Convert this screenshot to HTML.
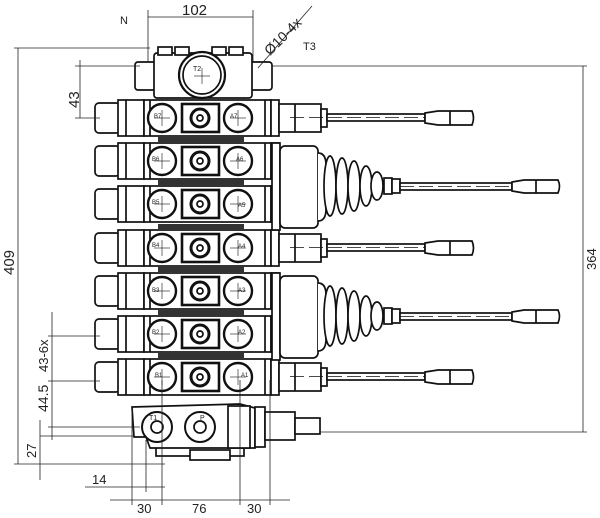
<!DOCTYPE html>
<html><head><style>body{margin:0;background:#fff}svg{display:block}text{font-family:"Liberation Sans",sans-serif;fill:#222}</style></head><body>
<svg width="600" height="518" viewBox="0 0 600 518" xmlns="http://www.w3.org/2000/svg">
<defs>
<g id="sec" stroke="#111" fill="#fff" stroke-width="1.7">
 <rect x="95" y="3" width="25" height="30" rx="4"/>
 <rect x="118" y="0" width="26" height="36"/>
 <line x1="126" y1="0" x2="126" y2="36"/>
 <rect x="144" y="0" width="127" height="36"/>
 <line x1="150" y1="0" x2="150" y2="36"/>
 <line x1="265" y1="0" x2="265" y2="36"/>
 <circle cx="162" cy="18" r="14" stroke-width="2.4"/>
 <rect x="182" y="4" width="37" height="28" stroke-width="2.6"/>
 <circle cx="200" cy="18" r="9" stroke-width="3"/>
 <circle cx="200" cy="18" r="3"/>
 <circle cx="238" cy="18" r="14" stroke-width="2.4"/>
 <line x1="154" y1="18" x2="170" y2="18" stroke-width=".6"/><line x1="162" y1="10" x2="162" y2="26" stroke-width=".6"/>
 <line x1="230" y1="18" x2="246" y2="18" stroke-width=".6"/><line x1="238" y1="10" x2="238" y2="26" stroke-width=".6"/>
 <rect x="271" y="0" width="8" height="36"/>
</g>
<g id="lev" stroke="#111" fill="#fff" stroke-width="1.7">
 <rect x="279" y="4" width="42" height="28"/>
 <line x1="295" y1="4" x2="295" y2="32"/>
 <rect x="321" y="9" width="6" height="18"/>
 <rect x="327" y="14" width="98" height="7"/>
 <line x1="290" y1="17.5" x2="425" y2="17.5" stroke-width=".7" stroke-dasharray="14 5"/>
 <path d="M425 13 L438 11 L472 11 Q475 18 472 25 L438 25 L425 23 Z"/>
 <line x1="450" y1="11" x2="450" y2="25"/>
</g>
<g id="joy" stroke="#111" fill="#fff" stroke-width="1.7">
 <rect x="272" y="0" width="8" height="87"/>
 <rect x="280" y="3" width="38" height="82" rx="5"/>
 <path d="M318 10 q8 0 8 12 v44 q0 12 -8 12" />
 <ellipse cx="330" cy="43" rx="6" ry="30"/>
 <ellipse cx="342" cy="43" rx="6" ry="28"/>
 <ellipse cx="354" cy="43" rx="6" ry="25"/>
 <ellipse cx="366" cy="43" rx="6" ry="20"/>
 <ellipse cx="377" cy="43" rx="6" ry="14"/>
 <rect x="384" y="35" width="8" height="16"/>
 <rect x="392" y="36" width="8" height="14"/>
 <rect x="400" y="40" width="112" height="7"/>
 <line x1="400" y1="43.5" x2="512" y2="43.5" stroke-width=".7" stroke-dasharray="14 5"/>
 <path d="M512 39 L524 37 L558 37 Q561 43 558 50 L524 50 L512 48 Z"/>
 <line x1="536" y1="37" x2="536" y2="50"/>
</g>
</defs>
<g fill="#333"><rect x="158" y="137" width="86" height="5"/><rect x="158" y="180" width="86" height="5"/><rect x="158" y="224" width="86" height="5"/><rect x="158" y="267" width="86" height="5"/><rect x="158" y="310" width="86" height="5"/><rect x="158" y="353" width="86" height="5"/></g>
<use href="#sec" y="100"/><use href="#sec" y="143"/><use href="#sec" y="186"/><use href="#sec" y="230"/><use href="#sec" y="273"/><use href="#sec" y="316"/><use href="#sec" y="359"/>
<use href="#lev" y="100"/><use href="#lev" y="230"/><use href="#lev" y="359"/>
<use href="#joy" y="143"/><use href="#joy" y="273"/>
<g font-size="6"><text x="154" y="118">B7</text><text x="230" y="118">A7</text><text x="152" y="161">B6</text><text x="236" y="161">A6</text><text x="152" y="204">B5</text><text x="238" y="207">A5</text><text x="152" y="247">B4</text><text x="238" y="248">A4</text><text x="152" y="292">B3</text><text x="238" y="292">A3</text><text x="152" y="334">B2</text><text x="238" y="334">A2</text><text x="155" y="377">B1</text><text x="241" y="377">A1</text></g>
<g stroke="#111" fill="#fff" stroke-width="1.7">
 <rect x="135" y="62" width="22" height="28" rx="3"/><rect x="250" y="62" width="22" height="28" rx="3"/>
 <rect x="154" y="53" width="98" height="45" rx="3"/>
 <rect x="158" y="47" width="14" height="8"/><rect x="175" y="47" width="14" height="8"/><rect x="212" y="47" width="14" height="8"/><rect x="229" y="47" width="14" height="8"/>
 <circle cx="202" cy="75" r="23" stroke-width="2.2"/><circle cx="202" cy="75" r="19"/>
 <line x1="194" y1="76" x2="210" y2="76" stroke-width=".6"/><line x1="202" y1="68" x2="202" y2="84" stroke-width=".6"/>
</g>
<text x="193" y="71" font-size="7">T2</text>
<g stroke="#111" fill="#fff" stroke-width="1.7">
 <rect x="156" y="444" width="88" height="12"/><rect x="190" y="450" width="40" height="10"/>
 <path d="M132 407 L240 404 L255 408 L255 448 L150 448 L146 437 L134 437 Z"/>
 <rect x="228" y="406" width="22" height="42"/>
 <rect x="255" y="407" width="10" height="40"/><rect x="265" y="412" width="30" height="28"/><rect x="295" y="418" width="25" height="16"/>
 <circle cx="157" cy="427" r="15" stroke-width="2"/><circle cx="157" cy="427" r="6"/>
 <circle cx="200" cy="427" r="15" stroke-width="2"/><circle cx="200" cy="427" r="6"/>
</g>
<text x="149" y="420" font-size="7">T1</text><text x="200" y="420" font-size="7">P</text>
<g stroke="#222" stroke-width=".8" fill="none">
 <line x1="148" y1="17" x2="253" y2="17"/><line x1="148" y1="10" x2="148" y2="62"/><line x1="253" y1="10" x2="253" y2="62"/>
 <line x1="258" y1="68" x2="312" y2="6"/>
 <line x1="18" y1="48" x2="18" y2="464"/><line x1="14" y1="48" x2="150" y2="48"/><line x1="14" y1="464" x2="165" y2="464"/>
 <line x1="80" y1="60" x2="80" y2="118"/><line x1="75" y1="66" x2="140" y2="66"/><line x1="75" y1="118" x2="100" y2="118"/>
 <line x1="272" y1="66" x2="587" y2="66"/><line x1="583" y1="66" x2="583" y2="432"/><line x1="320" y1="432" x2="587" y2="432"/>
 <line x1="52" y1="312" x2="52" y2="440"/><line x1="48" y1="336" x2="100" y2="336"/><line x1="48" y1="381" x2="100" y2="381"/>
 <line x1="48" y1="427" x2="140" y2="427"/><line x1="40" y1="436" x2="135" y2="436"/>
 <line x1="40" y1="420" x2="40" y2="480"/>
 <line x1="85" y1="487" x2="165" y2="487"/>
 <line x1="110" y1="500" x2="290" y2="500"/>
 <line x1="132" y1="410" x2="132" y2="505"/><line x1="146" y1="440" x2="146" y2="492"/><line x1="162" y1="380" x2="162" y2="505"/><line x1="240" y1="380" x2="240" y2="505"/><line x1="270" y1="380" x2="270" y2="505"/>
</g>
<g font-size="15"><text x="182" y="15">102</text><text x="303" y="50" font-size="11">T3</text><text x="120" y="24" font-size="11">N</text>
<text transform="translate(270,56) rotate(-45)" font-size="14">Ø10-4x</text>
<text transform="translate(14,275) rotate(-90)">409</text>
<text transform="translate(79,108) rotate(-90)">43</text>
<text transform="translate(596,270) rotate(-90)" font-size="13">364</text>
<text transform="translate(48,372) rotate(-90)" font-size="13">43-6x</text>
<text transform="translate(48,412) rotate(-90)" font-size="14">44.5</text>
<text transform="translate(36,458) rotate(-90)" font-size="13">27</text>
<text x="92" y="484" font-size="13">14</text><text x="137" y="513" font-size="13">30</text><text x="192" y="513" font-size="13">76</text><text x="247" y="513" font-size="13">30</text></g>
</svg>
</body></html>
